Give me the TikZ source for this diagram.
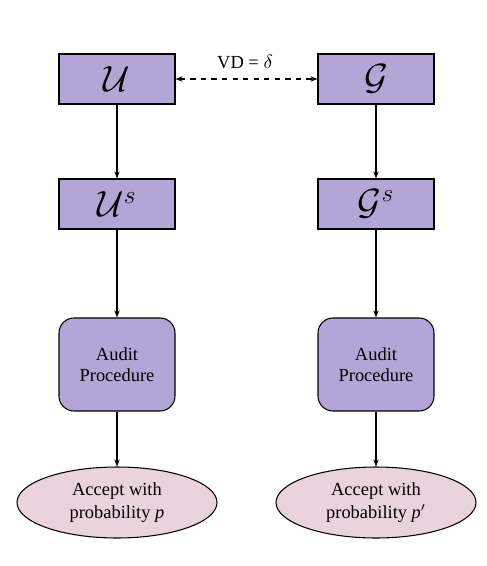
\documentclass[tikz,border=0pt]{standalone}
\usepackage{fontspec}
\setmainfont{Liberation Serif}
\usepackage{amsmath, amssymb}
\usetikzlibrary{arrows.meta}
\usetikzlibrary{shapes.geometric}
\definecolor{boxpurple}{HTML}{B3A6D6}
\definecolor{ovalpink}{HTML}{EBD3DD}
\tikzset{
	setbox/.style={draw, line width=0.6pt, fill=boxpurple, minimum width=2.32cm, minimum height=1cm, inner sep=0pt, font=\fontsize{19.5}{21}\selectfont},
	auditbox/.style={draw, line width=0.6pt, fill=boxpurple, rounded corners=0.3cm, minimum width=2.32cm, minimum height=1.86cm, inner sep=0pt, align=center, font=\fontsize{10.5}{12}\selectfont},
	acceptoval/.style={draw, line width=0.6pt, ellipse, fill=ovalpink, minimum width=4cm, minimum height=1.42cm, inner sep=0pt, align=center, font=\fontsize{10.5}{13}\selectfont},
	flow/.style={-{Stealth[length=4pt,width=3pt]}, line width=0.6pt}
}
\begin{document}
\begin{tikzpicture}
	\useasboundingbox (0,0) rectangle (9.74,-11.32);
	
	\node[setbox] (U) at (2.34,-1.58) {$\mathcal{U}$};
	\node[setbox] (G) at (7.52,-1.58) {$\mathcal{G}$};
	\node[setbox] (Us) at (2.34,-4.08) {$\mathcal{U}^s$};
	\node[setbox] (Gs) at (7.52,-4.08) {$\mathcal{G}^s$};
	\node[auditbox] (AU) at (2.34,-7.29) {Audit\\Procedure};
	\node[auditbox] (AG) at (7.52,-7.29) {Audit\\Procedure};
	\node[acceptoval] (PU) at (2.34,-10.05) {Accept with\\probability \textit{p}};
	\node[acceptoval] (PG) at (7.52,-10.05) {Accept with\\probability \textit{p}$'$};
	
	\node[font=\fontsize{10.5}{13}\selectfont] (VD) at (4.9,-1.24) {VD = $\delta$};
	
	\draw[flow, dashed, {Stealth[length=4pt,width=3pt]}-{Stealth[length=4pt,width=3pt]}] (U) -- (G);
	\draw[flow] (U) -- (Us);
	\draw[flow] (G) -- (Gs);
	\draw[flow] (Us) -- (AU);
	\draw[flow] (Gs) -- (AG);
	\draw[flow] (AU) -- (PU);
	\draw[flow] (AG) -- (PG);
	
\end{tikzpicture}
\end{document}
